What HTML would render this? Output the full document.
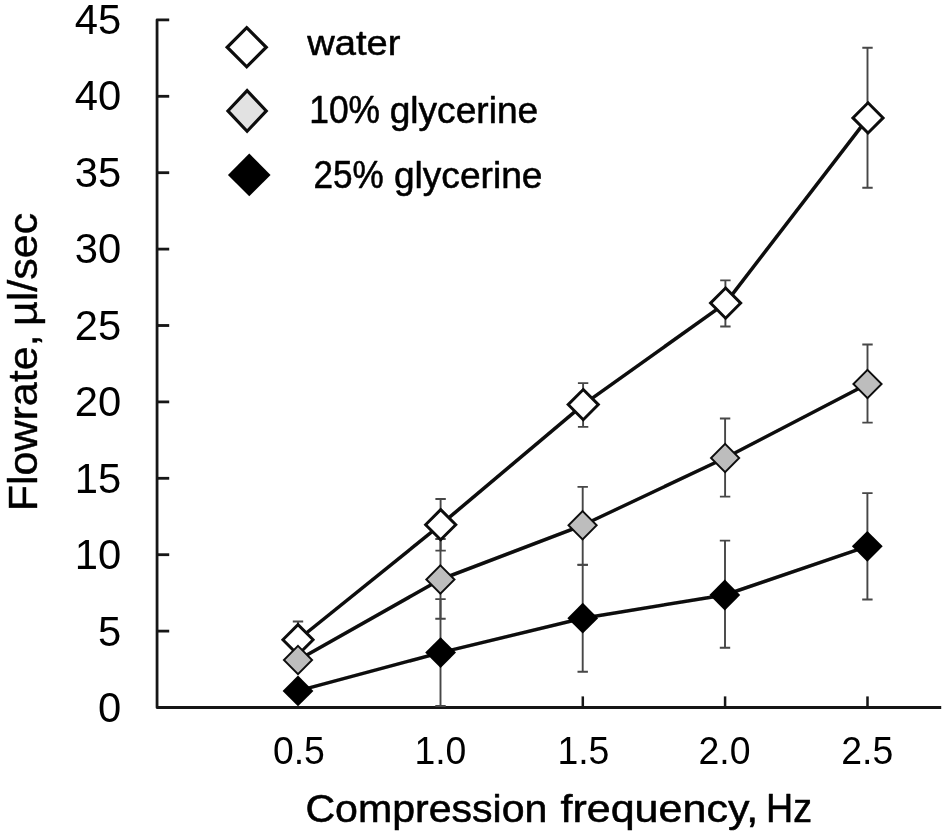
<!DOCTYPE html>
<html lang="en">
<head>
<meta charset="utf-8">
<title>Flowrate vs compression frequency</title>
<style>
html,body{margin:0;padding:0;background:#fff;}
body{width:943px;height:834px;overflow:hidden;}
svg{display:block;}
text{font-family:"Liberation Sans",sans-serif;fill:#000;}
</style>
</head>
<body>
<svg width="943" height="834" viewBox="0 0 943 834">
<defs><filter id="soft" x="0" y="0" width="943" height="834" filterUnits="userSpaceOnUse"><feGaussianBlur stdDeviation="0.5"/></filter></defs>
<rect width="943" height="834" fill="#ffffff"/>
<g filter="url(#soft)">

<g stroke="#141414" stroke-width="2.8" fill="none" stroke-linecap="butt" stroke-linejoin="round">
<path d="M169.2,19.90 H157.05 V707.50 H941.2"/>
<path d="M157,631.10 H169.2"/>
<path d="M157,554.70 H169.2"/>
<path d="M157,478.30 H169.2"/>
<path d="M157,401.90 H169.2"/>
<path d="M157,325.50 H169.2"/>
<path d="M157,249.10 H169.2"/>
<path d="M157,172.70 H169.2"/>
<path d="M157,96.30 H169.2"/>
<path d="M582.80,707.50 V696.4" stroke-width="2.5"/>
<path d="M725.10,707.50 V696.4" stroke-width="2.5"/>
<path d="M867.50,707.50 V696.4" stroke-width="2.5"/>
</g>
<g stroke="#464646" stroke-width="1.9" fill="none">
<path d="M298.00,621.50 V658.00 M292.80,621.50 h10.4 M292.80,658.00 h10.4"/>
<path d="M440.60,499.00 V550.60 M435.40,499.00 h10.4 M435.40,550.60 h10.4"/>
<path d="M583.10,383.10 V426.90 M577.90,383.10 h10.4 M577.90,426.90 h10.4"/>
<path d="M725.40,280.40 V326.50 M720.20,280.40 h10.4 M720.20,326.50 h10.4"/>
<path d="M867.50,47.75 V187.75 M862.30,47.75 h10.4 M862.30,187.75 h10.4"/>
<path d="M440.50,539.00 V618.75 M435.30,539.00 h10.4 M435.30,618.75 h10.4"/>
<path d="M582.70,486.90 V564.90 M577.50,486.90 h10.4 M577.50,564.90 h10.4"/>
<path d="M725.10,418.50 V496.60 M719.90,418.50 h10.4 M719.90,496.60 h10.4"/>
<path d="M867.50,344.50 V422.60 M862.30,344.50 h10.4 M862.30,422.60 h10.4"/>
<path d="M440.50,599.10 V706.00 M435.30,599.10 h10.4 M435.30,706.00 h10.4"/>
<path d="M582.70,564.70 V671.75 M577.50,564.70 h10.4 M577.50,671.75 h10.4"/>
<path d="M725.00,540.60 V647.75 M719.80,540.60 h10.4 M719.80,647.75 h10.4"/>
<path d="M867.40,493.10 V599.50 M862.20,493.10 h10.4 M862.20,599.50 h10.4"/>
</g>
<polyline fill="none" stroke="#0a0a0a" stroke-width="3.5" stroke-linejoin="round" points="298.00,639.75 440.70,524.70 583.25,404.60 725.60,303.10 868.00,117.90"/>
<polygon points="298.00,624.65 313.10,639.75 298.00,654.85 282.90,639.75" fill="#ffffff" stroke="#0a0a0a" stroke-width="2.9" stroke-linejoin="miter"/>
<polygon points="440.70,509.60 455.80,524.70 440.70,539.80 425.60,524.70" fill="#ffffff" stroke="#0a0a0a" stroke-width="2.9" stroke-linejoin="miter"/>
<polygon points="583.25,389.50 598.35,404.60 583.25,419.70 568.15,404.60" fill="#ffffff" stroke="#0a0a0a" stroke-width="2.9" stroke-linejoin="miter"/>
<polygon points="725.60,288.00 740.70,303.10 725.60,318.20 710.50,303.10" fill="#ffffff" stroke="#0a0a0a" stroke-width="2.9" stroke-linejoin="miter"/>
<polygon points="868.00,102.80 883.10,117.90 868.00,133.00 852.90,117.90" fill="#ffffff" stroke="#0a0a0a" stroke-width="2.9" stroke-linejoin="miter"/>
<polyline fill="none" stroke="#0a0a0a" stroke-width="3.5" stroke-linejoin="round" points="298.00,660.00 440.40,579.50 582.60,525.25 725.10,458.00 867.50,384.00"/>
<polygon points="298.00,645.90 312.10,660.00 298.00,674.10 283.90,660.00" fill="#bdbdbd" stroke="#0a0a0a" stroke-width="1.9" stroke-linejoin="miter"/>
<polygon points="440.40,565.40 454.50,579.50 440.40,593.60 426.30,579.50" fill="#bdbdbd" stroke="#0a0a0a" stroke-width="1.9" stroke-linejoin="miter"/>
<polygon points="582.60,511.15 596.70,525.25 582.60,539.35 568.50,525.25" fill="#bdbdbd" stroke="#0a0a0a" stroke-width="1.9" stroke-linejoin="miter"/>
<polygon points="725.10,443.90 739.20,458.00 725.10,472.10 711.00,458.00" fill="#bdbdbd" stroke="#0a0a0a" stroke-width="1.9" stroke-linejoin="miter"/>
<polygon points="867.50,369.90 881.60,384.00 867.50,398.10 853.40,384.00" fill="#bdbdbd" stroke="#0a0a0a" stroke-width="1.9" stroke-linejoin="miter"/>
<polyline fill="none" stroke="#0a0a0a" stroke-width="3.5" stroke-linejoin="round" points="298.00,690.90 440.60,652.60 582.75,618.20 724.80,595.00 867.30,546.30"/>
<polygon points="298.00,675.50 313.40,690.90 298.00,706.30 282.60,690.90" fill="#000000"/>
<polygon points="440.60,637.20 456.00,652.60 440.60,668.00 425.20,652.60" fill="#000000"/>
<polygon points="582.75,602.80 598.15,618.20 582.75,633.60 567.35,618.20" fill="#000000"/>
<polygon points="724.80,579.60 740.20,595.00 724.80,610.40 709.40,595.00" fill="#000000"/>
<polygon points="867.30,530.90 882.70,546.30 867.30,561.70 851.90,546.30" fill="#000000"/>
<polygon points="246.70,27.70 266.25,47.25 246.70,66.80 227.15,47.25" fill="#ffffff" stroke="#0a0a0a" stroke-width="3.2" stroke-linejoin="miter"/>
<polygon points="247.10,90.60 266.30,110.90 247.10,131.20 227.90,110.90" fill="#e2e2e2" stroke="#0a0a0a" stroke-width="3.1" stroke-linejoin="miter"/>
<polygon points="249.25,153.60 270.55,174.90 249.25,196.20 227.95,174.90" fill="#000000"/>
<text transform="translate(121.20,722.37) scale(0.9721,1)" font-size="43.0" text-anchor="end">0</text>
<text transform="translate(121.20,645.84) scale(0.9721,1)" font-size="43.0" text-anchor="end">5</text>
<text transform="translate(121.20,569.31) scale(0.9721,1)" font-size="43.0" text-anchor="end">10</text>
<text transform="translate(121.20,492.78) scale(0.9721,1)" font-size="43.0" text-anchor="end">15</text>
<text transform="translate(121.20,416.25) scale(0.9721,1)" font-size="43.0" text-anchor="end">20</text>
<text transform="translate(121.20,339.72) scale(0.9721,1)" font-size="43.0" text-anchor="end">25</text>
<text transform="translate(121.20,263.19) scale(0.9721,1)" font-size="43.0" text-anchor="end">30</text>
<text transform="translate(121.20,186.66) scale(0.9721,1)" font-size="43.0" text-anchor="end">35</text>
<text transform="translate(121.20,110.13) scale(0.9721,1)" font-size="43.0" text-anchor="end">40</text>
<text transform="translate(121.20,33.60) scale(0.9721,1)" font-size="43.0" text-anchor="end">45</text>
<text transform="translate(298.90,764.00) scale(0.9714,1)" font-size="38.5" text-anchor="middle">0.5</text>
<text transform="translate(440.40,764.00) scale(0.9714,1)" font-size="38.5" text-anchor="middle">1.0</text>
<text transform="translate(583.40,764.00) scale(0.9714,1)" font-size="38.5" text-anchor="middle">1.5</text>
<text transform="translate(724.50,764.00) scale(0.9714,1)" font-size="38.5" text-anchor="middle">2.0</text>
<text transform="translate(867.20,764.00) scale(0.9714,1)" font-size="38.5" text-anchor="middle">2.5</text>
<text transform="translate(307.20,55.00) scale(1.0613,1)" font-size="35.9" text-anchor="start" stroke="#000" stroke-width="0.55" stroke-linejoin="round">water</text>
<g><text transform="translate(309.26,123.40) scale(0.9192,1)" font-size="38.5" text-anchor="start" stroke="#000" stroke-width="0.55" stroke-linejoin="round">10%</text><text transform="translate(389.70,123.40) scale(1.0192,1)" font-size="36.4" text-anchor="start" stroke="#000" stroke-width="0.55" stroke-linejoin="round">glycerine</text></g>
<g><text transform="translate(313.48,188.40) scale(0.9127,1)" font-size="38.5" text-anchor="start" stroke="#000" stroke-width="0.55" stroke-linejoin="round">25%</text><text transform="translate(393.95,188.40) scale(1.0192,1)" font-size="36.4" text-anchor="start" stroke="#000" stroke-width="0.55" stroke-linejoin="round">glycerine</text></g>
<g><text transform="translate(305.45,821.70) scale(1.0453,1)" font-size="39.3" text-anchor="start" stroke="#000" stroke-width="0.55" stroke-linejoin="round">Compression</text><text transform="translate(560.46,821.70) scale(1.0952,1)" font-size="39.3" text-anchor="start" stroke="#000" stroke-width="0.55" stroke-linejoin="round">frequency,</text><text transform="translate(766.04,821.70) scale(0.9289,1)" font-size="40.5" text-anchor="start" stroke="#000" stroke-width="0.55" stroke-linejoin="round">Hz</text></g>
<g><text transform="translate(36.60,511.31) rotate(-90) scale(1.0498,1)" font-size="41" text-anchor="start" stroke="#000" stroke-width="0.4" stroke-linejoin="round">Flowrate,</text><text transform="translate(36.60,325.98) rotate(-90) scale(1.0490,1)" font-size="41" text-anchor="start" stroke="#000" stroke-width="0.4" stroke-linejoin="round">µl/sec</text></g>
</g>
</svg>
</body>
</html>
